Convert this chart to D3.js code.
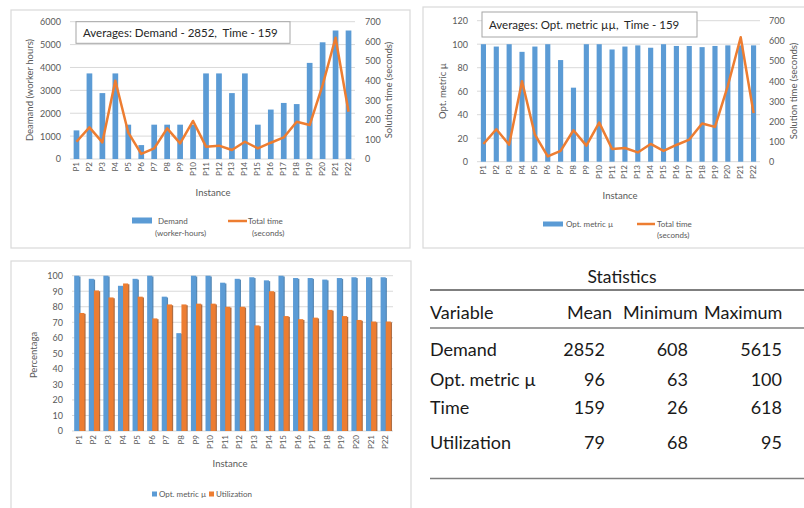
<!DOCTYPE html>
<html lang="en">
<head>
<meta charset="UTF-8">
<title>Instances</title>
<script src="https://d3js.org/d3.v7.min.js"></script>
<style>
  body { margin: 0; background: #fff; }
  svg text { font-family: Lato, "Noto Sans", sans-serif; }
  .tick text { fill: #595959; font-size: 9px; }
  .grid line { stroke: #d9d9d9; stroke-width: 1px; }
  .axt { fill: #595959; font-size: 9.5px; }
  .tbl { fill: #1a1a1a; font-size: 18px; }
</style>
</head>
<body>
<svg width="804" height="508"></svg>
<script>
// ---- data ----
var instances = ["P1","P2","P3","P4","P5","P6","P7","P8","P9","P10","P11",
                 "P12","P13","P14","P15","P16","P17","P18","P19","P20","P21","P22"];
var demand = [1250,3740,2880,3740,1500,608,1500,1500,1500,1500,3740,
              3740,2880,3740,1500,2160,2450,2400,4200,5100,5615,5615];
var totalTime = [88,161,85,399,134,26,54,156,80,194,63,
                 68,46,88,54,83,110,190,173,377,618,241];
var optMetric = [100,98,100,93.5,98,100,86.5,63,100,100,95.5,
                 98,99,97,100,98.5,98.5,97.5,98.5,99,99,99];
var utilization = [76,90.5,86,95,86.5,72.5,81.5,81.5,82,82,80,
                   80,68,90,74,72,73,78,74,71.5,70.5,70.5];

var statHeader = ["Variable","Mean","Minimum","Maximum"];
var statRows = [
  ["Demand", 2852, 608, 5615],
  ["Opt. metric \u00b5", 96, 63, 100],
  ["Time", 159, 26, 618],
  ["Utilization", 79, 68, 95]
];

var blue = "#5b9bd5", orange = "#ed7d31";
var svg = d3.select("svg");

function panelFrame(x0, y0, x1, y1) {
  svg.append("rect")
    .attr("x", x0).attr("y", y0)
    .attr("width", x1 - x0).attr("height", y1 - y0)
    .attr("fill", "#fff").attr("stroke", "#d9d9d9").attr("stroke-width", 1.2);
}

function gridAndLeft(g, y, ticks, x0, x1, fmt) {
  g.append("g").attr("class", "grid")
    .selectAll("line").data(ticks).enter().append("line")
    .attr("x1", x0).attr("x2", x1)
    .attr("y1", function(d) { return y(d); })
    .attr("y2", function(d) { return y(d); });
  g.append("g").attr("transform", "translate(" + (x0 - 6) + ",0)")
    .call(d3.axisLeft(y).tickValues(ticks).tickSize(0).tickFormat(fmt || d3.format("d")))
    .call(function(a) { a.select(".domain").remove(); });
}

function rightAxis(g, y, ticks, x) {
  g.append("g").attr("transform", "translate(" + x + ",0)")
    .call(d3.axisRight(y).tickValues(ticks).tickSize(0).tickFormat(d3.format("d")))
    .call(function(a) { a.select(".domain").remove(); a.selectAll("text").attr("text-anchor", "start"); });
}

function xLabels(g, x, yTop) {
  g.append("g").selectAll("text").data(instances).enter().append("text")
    .attr("class", "axt")
    .style("font-size", "8px")
    .attr("text-anchor", "end")
    .attr("dy", "0.32em")
    .attr("transform", function(d) {
      return "translate(" + (x(d) + x.bandwidth() / 2) + "," + yTop + ") rotate(-90)";
    })
    .text(function(d) { return d; });
}

function vTitle(g, txt, x, y) {
  g.append("text").attr("class", "axt")
    .attr("text-anchor", "middle")
    .attr("transform", "translate(" + x + "," + y + ") rotate(-90)")
    .text(txt);
}

function avgBox(g, x0, y0, w, h, txt) {
  g.append("rect").attr("x", x0).attr("y", y0).attr("width", w).attr("height", h)
    .attr("fill", "#fff").attr("stroke", "#a6a6a6").attr("stroke-width", 1);
  g.append("text").attr("x", x0 + 7).attr("y", y0 + h / 2)
    .attr("dy", "0.35em").attr("fill", "#262626").style("font-size", "11.5px")
    .style("white-space", "pre")
    .text(txt);
}

// ================= panel 1: demand + time =================
panelFrame(11, 10, 410, 248);
var g1 = svg.append("g");
var x1 = d3.scaleBand().domain(instances).range([70, 355]).paddingInner(0.56).paddingOuter(0.28);
var y1 = d3.scaleLinear().domain([0, 6000]).range([159, 21.7]);
var y1r = d3.scaleLinear().domain([0, 700]).range([159, 21.7]);
gridAndLeft(g1, y1, d3.range(0, 6001, 1000), 70, 355);
rightAxis(g1, y1r, d3.range(0, 701, 100), 362);
g1.append("g").selectAll("rect").data(demand).enter().append("rect")
  .attr("x", function(d, i) { return x1(instances[i]); })
  .attr("width", x1.bandwidth())
  .attr("y", function(d) { return y1(d); })
  .attr("height", function(d) { return y1(0) - y1(d); })
  .attr("fill", blue);
g1.append("path").datum(totalTime)
  .attr("fill", "none").attr("stroke", orange).attr("stroke-width", 2.5)
  .attr("stroke-linejoin", "round")
  .attr("d", d3.line()
    .x(function(d, i) { return x1(instances[i]) + x1.bandwidth() / 2; })
    .y(function(d) { return y1r(d); }));
avgBox(g1, 76, 21.7, 214, 21.6, "Averages: Demand - 2852,  Time - 159");
xLabels(g1, x1, 162);
vTitle(g1, "Deamand (worker hours)", 33, 90);
vTitle(g1, "Solution time (seconds)", 392, 90);
g1.append("text").attr("class", "axt").attr("x", 213).attr("y", 193).attr("dy", "0.35em")
  .attr("text-anchor", "middle").text("Instance");
// legend
g1.append("rect").attr("x", 132).attr("y", 217.5).attr("width", 20).attr("height", 6).attr("fill", blue);
g1.append("text").attr("class", "axt").style("font-size", "8px").attr("x", 158).attr("y", 221).attr("dy", "0.35em").text("Demand");
g1.append("text").attr("class", "axt").style("font-size", "8px").attr("x", 155).attr("y", 233).attr("dy", "0.35em").text("(worker-hours)");
g1.append("line").attr("x1", 228).attr("x2", 247).attr("y1", 221).attr("y2", 221).attr("stroke", orange).attr("stroke-width", 2.5);
g1.append("text").attr("class", "axt").style("font-size", "8px").attr("x", 248).attr("y", 221).attr("dy", "0.35em").text("Total time");
g1.append("text").attr("class", "axt").style("font-size", "8px").attr("x", 252).attr("y", 233).attr("dy", "0.35em").text("(seconds)");

// ================= panel 2: opt metric + time =================
panelFrame(423, 7, 812, 248);
var g2 = svg.append("g");
var x2 = d3.scaleBand().domain(instances).range([477, 760]).paddingInner(0.6).paddingOuter(0.3);
var y2 = d3.scaleLinear().domain([0, 120]).range([161.7, 20.7]);
var y2r = d3.scaleLinear().domain([0, 700]).range([161.7, 20.7]);
gridAndLeft(g2, y2, d3.range(0, 121, 20), 477, 760);
rightAxis(g2, y2r, d3.range(0, 701, 100), 766);
g2.append("g").selectAll("rect").data(optMetric).enter().append("rect")
  .attr("x", function(d, i) { return x2(instances[i]); })
  .attr("width", x2.bandwidth())
  .attr("y", function(d) { return y2(d); })
  .attr("height", function(d) { return y2(0) - y2(d); })
  .attr("fill", blue);
g2.append("path").datum(totalTime)
  .attr("fill", "none").attr("stroke", orange).attr("stroke-width", 2.5)
  .attr("stroke-linejoin", "round")
  .attr("d", d3.line()
    .x(function(d, i) { return x2(instances[i]) + x2.bandwidth() / 2; })
    .y(function(d) { return y2r(d); }));
avgBox(g2, 482, 12, 215, 25, "Averages: Opt. metric \u00b5\u00b5,  Time - 159");
xLabels(g2, x2, 165);
vTitle(g2, "Opt. metric \u00b5", 446, 91);
vTitle(g2, "Solution time (seconds)", 797, 91);
g2.append("text").attr("class", "axt").attr("x", 620).attr("y", 196).attr("dy", "0.35em")
  .attr("text-anchor", "middle").text("Instance");
g2.append("rect").attr("x", 543).attr("y", 221.5).attr("width", 20).attr("height", 5).attr("fill", blue);
g2.append("text").attr("class", "axt").style("font-size", "8px").attr("x", 566).attr("y", 224).attr("dy", "0.35em").text("Opt. metric \u00b5");
g2.append("line").attr("x1", 637).attr("x2", 655).attr("y1", 224).attr("y2", 224).attr("stroke", orange).attr("stroke-width", 2.5);
g2.append("text").attr("class", "axt").style("font-size", "8px").attr("x", 657).attr("y", 224).attr("dy", "0.35em").text("Total time");
g2.append("text").attr("class", "axt").style("font-size", "8px").attr("x", 657).attr("y", 235).attr("dy", "0.35em").text("(seconds)");

// ================= panel 3: opt metric vs utilization =================
panelFrame(11, 261, 411, 512);
var g3 = svg.append("g");
var x3 = d3.scaleBand().domain(instances).range([72, 393]).paddingInner(0.3).paddingOuter(0.15);
var x3s = d3.scaleBand().domain(["opt", "util"]).range([0, x3.bandwidth()]);
var y3 = d3.scaleLinear().domain([0, 100]).range([431, 275.7]);
gridAndLeft(g3, y3, d3.range(0, 101, 10), 72, 393);
var series3 = [{ key: "opt", vals: optMetric, color: blue, dark: "#2e6da4" },
               { key: "util", vals: utilization, color: orange, dark: "#9c4a14" }];
series3.forEach(function(s) {
  var sel = g3.append("g").selectAll("g").data(s.vals).enter().append("g");
  // soft shadow on the right edge
  sel.append("rect")
    .attr("x", function(d, i) { return x3(instances[i]) + x3s(s.key) + 1.2; })
    .attr("width", x3s.bandwidth())
    .attr("y", function(d) { return y3(d) + 0.8; })
    .attr("height", function(d) { return y3(0) - y3(d) - 0.8; })
    .attr("fill", s.dark).attr("opacity", 0.8);
  sel.append("rect")
    .attr("x", function(d, i) { return x3(instances[i]) + x3s(s.key); })
    .attr("width", x3s.bandwidth())
    .attr("y", function(d) { return y3(d); })
    .attr("height", function(d) { return y3(0) - y3(d); })
    .attr("fill", s.color);
});
xLabels(g3, x3, 435);
vTitle(g3, "Percentaga", 37, 355);
g3.append("text").attr("class", "axt").attr("x", 230).attr("y", 464).attr("dy", "0.35em")
  .attr("text-anchor", "middle").text("Instance");
g3.append("rect").attr("x", 152).attr("y", 491.5).attr("width", 5).attr("height", 5).attr("fill", blue);
g3.append("text").attr("class", "axt").style("font-size", "8px").attr("x", 159).attr("y", 494.5).attr("dy", "0.35em").text("Opt. metric \u00b5");
g3.append("rect").attr("x", 209).attr("y", 491.5).attr("width", 5).attr("height", 5).attr("fill", orange);
g3.append("text").attr("class", "axt").style("font-size", "8px").attr("x", 216).attr("y", 494.5).attr("dy", "0.35em").text("Utilization");

// ================= statistics table =================
var gt = svg.append("g");
var colRight = [null, 605, 688, 782];
var rowY = [350, 380, 408, 443];
gt.append("text").attr("class", "tbl").style("font-size", "17.5px")
  .attr("x", 622).attr("y", 277).attr("dy", "0.35em")
  .attr("text-anchor", "middle").text("Statistics");
gt.append("line").attr("x1", 430).attr("x2", 804).attr("y1", 290).attr("y2", 290).attr("stroke", "#7f7f7f").attr("stroke-width", 2.2);
gt.append("line").attr("x1", 430).attr("x2", 804).attr("y1", 328).attr("y2", 328).attr("stroke", "#7f7f7f").attr("stroke-width", 1.6);
gt.append("line").attr("x1", 430).attr("x2", 804).attr("y1", 478.5).attr("y2", 478.5).attr("stroke", "#7f7f7f").attr("stroke-width", 1.6);
var headX = [430, 567, 623, 704];
gt.selectAll("text.h").data(statHeader).enter().append("text")
  .attr("class", "tbl h").attr("x", function(d, i) { return headX[i]; })
  .attr("y", 313).attr("dy", "0.35em").text(function(d) { return d; });
statRows.forEach(function(r, ri) {
  r.forEach(function(v, ci) {
    gt.append("text").attr("class", "tbl")
      .attr("x", ci === 0 ? 430 : colRight[ci])
      .attr("y", rowY[ri]).attr("dy", "0.35em")
      .attr("text-anchor", ci === 0 ? "start" : "end")
      .text(v);
  });
});
</script>
</body>
</html>
